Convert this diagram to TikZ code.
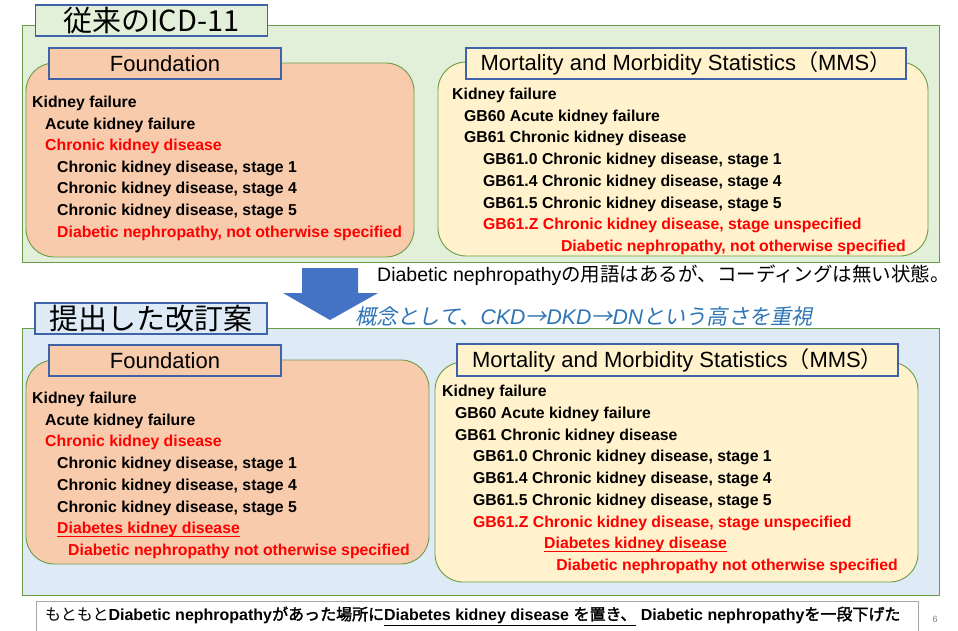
\documentclass[tikz,border=0pt]{standalone}
\usepackage{fontspec}
\setmainfont{Liberation Sans}
\newfontfamily\cjk[AutoFakeBold=2]{Noto Sans CJK JP}
\newfontfamily\cjkit[FakeSlant=0.2]{Noto Sans CJK JP}
\definecolor{gfill}{HTML}{E2F0D9}
\definecolor{bfill}{HTML}{DEEBF7}
\definecolor{gline}{HTML}{6A9B45}
\definecolor{lblue}{HTML}{3F63A8}
\definecolor{orfill}{HTML}{F8CBAD}
\definecolor{yfill}{HTML}{FFF2CC}
\definecolor{txtred}{HTML}{FF0000}
\definecolor{itblue}{HTML}{2E75B6}
\definecolor{arrowblue}{HTML}{4472C4}
\definecolor{notegray}{HTML}{A6A6A6}
\newcommand\itf{\fontsize{15.8}{18}\selectfont\bfseries}
\tikzset{
  item/.style={anchor=base west, inner sep=0pt, font=\itf, text=black},
  itemr/.style={item, text=txtred},
  itemre/.style={anchor=base east, inner sep=0pt, font=\itf, text=txtred},
  bigg/.style={draw=gline, fill=gfill, line width=0.9pt},
  bigb/.style={draw=gline, fill=bfill, line width=0.9pt},
  rbox/.style={draw=gline, line width=0.9pt, rounded corners=28pt},
  lbl/.style={draw=lblue, line width=1.1pt, inner sep=0pt, font=\fontsize{22}{22}\selectfont},
  ttl/.style={draw=lblue, line width=1.1pt, inner sep=0pt, font=\cjk\fontsize{29}{29}\selectfont},
  uline/.style={draw=txtred, line width=0.9pt}
}
\begin{document}
\begin{tikzpicture}[x=1pt,y=-1pt]
\useasboundingbox (0,0) rectangle (958,630);
\clip (0,0) rectangle (958,630);
\fill[white] (0,0) rectangle (958,630);

% ===== top section =====
\draw[bigg] (22,25) rectangle (939,262);
\node[ttl, fill=gfill, minimum width=232pt, minimum height=31pt] (t1) at (151.5,20.5) {従来の{\fontsize{29}{29}\selectfont ICD-11}};

\draw[rbox, fill=orfill] (26,63) rectangle (414,257);
\node[lbl, fill=orfill, minimum width=232pt, minimum height=31pt] (fl1) at (165,63.5) {Foundation};
\node[item]  (a1) at (32,107.5) {Kidney failure};
\node[item]  (a2) at (45,129.1) {Acute kidney failure};
\node[itemr] (a3) at (45,150.7) {Chronic kidney disease};
\node[item]  (a4) at (57,172.3) {Chronic kidney disease, stage 1};
\node[item]  (a5) at (57,193.9) {Chronic kidney disease, stage 4};
\node[item]  (a6) at (57,215.5) {Chronic kidney disease, stage 5};
\node[itemr] (a7) at (57,237.1) {Diabetic nephropathy, not otherwise specified};

\draw[rbox, fill=yfill] (438,62) rectangle (928,256);
\node[lbl, fill=yfill, minimum width=440pt, minimum height=31pt] (ml1) at (686,63.5) {Mortality and Morbidity Statistics{\cjk （}MMS{\cjk ）}};
\node[item]  (b1) at (452,99.5) {Kidney failure};
\node[item]  (b2) at (464,121.2) {GB60 Acute kidney failure};
\node[item]  (b3) at (464,142.9) {GB61 Chronic kidney disease};
\node[item]  (b4) at (483,164.6) {GB61.0 Chronic kidney disease, stage 1};
\node[item]  (b5) at (483,186.3) {GB61.4 Chronic kidney disease, stage 4};
\node[item]  (b6) at (483,208) {GB61.5 Chronic kidney disease, stage 5};
\node[itemr] (b7) at (483,229.7) {GB61.Z Chronic kidney disease, stage unspecified};
\node[itemre] (b8) at (906,251.4) {Diabetic nephropathy, not otherwise specified};

% ===== middle =====
\fill[arrowblue] (302,268) -- (358,268) -- (358,293) -- (378,293) -- (330,320) -- (283,293) -- (302,293) -- cycle;
\node[anchor=west, inner sep=0pt, font=\fontsize{19.5}{19.5}\selectfont] (m1) at (377,275) {Diabetic nephropathy{\cjk の用語はあるが、コーディングは無い状態。}};
\node[anchor=west, inner sep=0pt, text=itblue, font=\fontsize{21.2}{21.2}\selectfont] (m2) at (355,316)
  {{\cjkit 概念として、}{\itshape CKD}{\cjkit →}{\itshape DKD}{\cjkit →}{\itshape DN}{\cjkit という高さを重視}};

% ===== bottom section =====
\draw[bigb] (22,328) rectangle (939,595);
\node[ttl, fill=bfill, minimum width=232pt, minimum height=31pt] (t2) at (151,318.5) {提出した改訂案};

\draw[rbox, fill=orfill] (26,360) rectangle (429,564);
\node[lbl, fill=orfill, minimum width=232pt, minimum height=31pt] (fl2) at (165,360.5) {Foundation};
\node[item]  (c1) at (32,403.5) {Kidney failure};
\node[item]  (c2) at (45,425.2) {Acute kidney failure};
\node[itemr] (c3) at (45,446.9) {Chronic kidney disease};
\node[item]  (c4) at (57,468.6) {Chronic kidney disease, stage 1};
\node[item]  (c5) at (57,490.3) {Chronic kidney disease, stage 4};
\node[item]  (c6) at (57,512) {Chronic kidney disease, stage 5};
\node[itemr] (c7) at (57,533.7) {Diabetes kidney disease};
\node[itemr] (c8) at (68,555.4) {Diabetic nephropathy not otherwise specified};
\draw[uline] ([yshift=-2.6pt]c7.base west) -- ([yshift=-2.6pt]c7.base east);

\draw[rbox, fill=yfill] (435,362) rectangle (918,582);
\node[lbl, fill=yfill, minimum width=441pt, minimum height=32pt] (ml2) at (677.5,360) {Mortality and Morbidity Statistics{\cjk （}MMS{\cjk ）}};
\node[item]  (d1) at (442,396.5) {Kidney failure};
\node[item]  (d2) at (455,418.25) {GB60 Acute kidney failure};
\node[item]  (d3) at (455,440) {GB61 Chronic kidney disease};
\node[item]  (d4) at (473,461.75) {GB61.0 Chronic kidney disease, stage 1};
\node[item]  (d5) at (473,483.5) {GB61.4 Chronic kidney disease, stage 4};
\node[item]  (d6) at (473,505.25) {GB61.5 Chronic kidney disease, stage 5};
\node[itemr] (d7) at (473,527) {GB61.Z Chronic kidney disease, stage unspecified};
\node[itemr] (d8) at (544,548.75) {Diabetes kidney disease};
\node[itemre] (d9) at (898,570.5) {Diabetic nephropathy not otherwise specified};
\draw[uline] ([yshift=-2.6pt]d8.base west) -- ([yshift=-2.6pt]d8.base east);

% ===== note =====
\draw[draw=notegray, fill=white, line width=0.8pt] (36,601) rectangle (918,645);
\node[anchor=west, inner sep=0pt, font=\fontsize{16}{16}\selectfont] (n1) at (45,616)
  {{\cjk もともと}\textbf{Diabetic nephropathy}{\cjk\bfseries があった場所に}\underline{\textbf{Diabetes kidney disease }{\cjk\bfseries を置き、}}\textbf{ Diabetic nephropathy}{\cjk\bfseries を一段下げた}};
\node[inner sep=0pt, text=gray, font=\fontsize{9}{9}\selectfont] (pg) at (935,619) {6};
\end{tikzpicture}
\end{document}
